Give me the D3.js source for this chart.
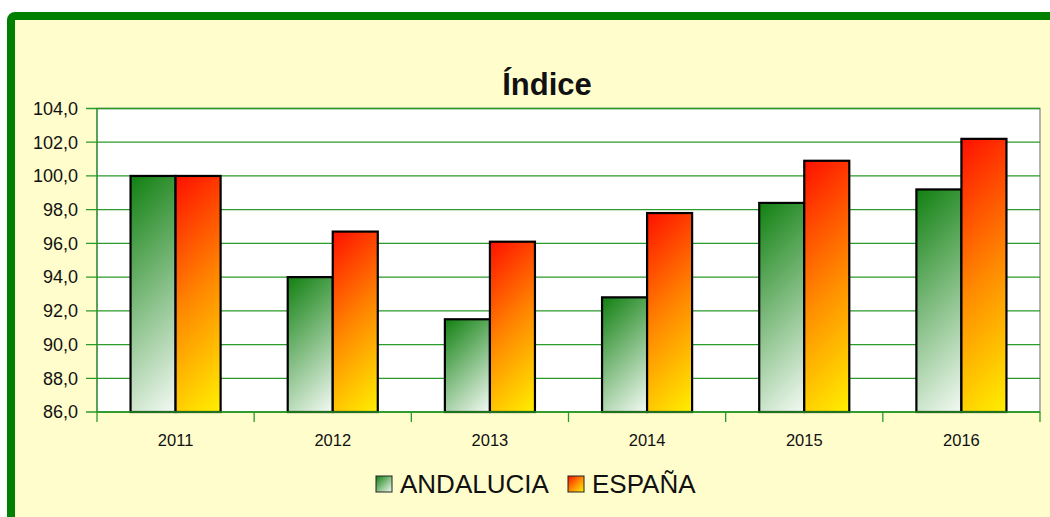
<!DOCTYPE html>
<html>
<head>
<meta charset="utf-8">
<script src="https://cdn.jsdelivr.net/npm/d3@7"></script>
<style>
  html, body { margin: 0; padding: 0; background: #fff; }
  svg { display: block; font-family: "Liberation Sans", Arial, sans-serif; }
</style>
</head>
<body>
<div id="chart"></div>
<script>
const years = ["2011", "2012", "2013", "2014", "2015", "2016"];
const andalucia = [100.0, 94.0, 91.5, 92.8, 98.4, 99.2];
const espana = [100.0, 96.7, 96.1, 97.8, 100.9, 102.2];
const seriesNames = ["ANDALUCIA", "ESPAÑA"];
const yTicks = [86, 88, 90, 92, 94, 96, 98, 100, 102, 104];

const greenStops = [["0%", "#118011"], ["100%", "#f4faf4"]];
const redStops = [["0%", "#ff1000"], ["50%", "#ff8800"], ["100%", "#fff000"]];

const W = 1050, H = 517;
const svg = d3.select("#chart").append("svg")
  .attr("width", W).attr("height", H);

const defs = svg.append("defs");
let gid = 0;
// 45 degree gradient in pixel space, covering the rect (like the office chart fill)
function grad(stops, x0, y0, w, h) {
  const id = "g" + gid++;
  const g = defs.append("linearGradient").attr("id", id);
  if (w === undefined) {
    g.attr("x1", "0%").attr("y1", "0%").attr("x2", "100%").attr("y2", "100%");
  } else {
    const s = (w + h) / 2;
    g.attr("gradientUnits", "userSpaceOnUse")
      .attr("x1", x0).attr("y1", y0).attr("x2", x0 + s).attr("y2", y0 + s);
  }
  stops.forEach(([o, c]) => g.append("stop").attr("offset", o).attr("stop-color", c));
  return `url(#${id})`;
}

// outer frame
svg.append("rect")
  .attr("x", 11).attr("y", 16).attr("width", W + 20).attr("height", H + 20)
  .attr("rx", 4)
  .attr("fill", "#fffdcc").attr("stroke", "#008000").attr("stroke-width", 8);

const m = { left: 97, right: 1040, top: 108.5, bottom: 412 };

const x = d3.scaleBand().domain(years).range([m.left, m.right]).paddingInner(0).paddingOuter(0);
const x1 = d3.scaleBand().domain(seriesNames).range([0, x.bandwidth()]).paddingInner(0).paddingOuter(0.745);
const y = d3.scaleLinear().domain([86, 104]).range([m.bottom, m.top]);

// plot area
svg.append("rect")
  .attr("x", m.left).attr("y", m.top)
  .attr("width", m.right - m.left).attr("height", m.bottom - m.top)
  .attr("fill", "#fff").attr("stroke", "#9a9a9a").attr("stroke-width", 1.5);

// gridlines
svg.append("g").selectAll("line").data(yTicks).join("line")
  .attr("x1", m.left - 11).attr("x2", m.right)
  .attr("y1", d => y(d)).attr("y2", d => y(d))
  .attr("stroke", "#2a9a2a").attr("stroke-width", 1.3);

// y axis line
svg.append("line")
  .attr("x1", m.left).attr("x2", m.left).attr("y1", m.top).attr("y2", m.bottom + 10)
  .attr("stroke", "#2a9a2a").attr("stroke-width", 1.3);

// y labels
svg.append("g").selectAll("text").data(yTicks).join("text")
  .attr("x", 78).attr("y", d => y(d)).attr("dy", "0.35em")
  .attr("text-anchor", "end").attr("font-size", 18).attr("fill", "#111")
  .text(d => d3.format(".1f")(d).replace(".", ","));

// x ticks
svg.append("g").selectAll("line").data(years).join("line")
  .attr("x1", (d, i) => m.left + x.bandwidth() * (i + 1))
  .attr("x2", (d, i) => m.left + x.bandwidth() * (i + 1))
  .attr("y1", m.bottom).attr("y2", m.bottom + 10)
  .attr("stroke", "#2a9a2a").attr("stroke-width", 1.3);

// bars
const groups = svg.append("g").selectAll("g").data(years).join("g")
  .attr("transform", d => `translate(${x(d)},0)`);

groups.selectAll("rect")
  .data((d, i) => [
    { s: seriesNames[0], v: andalucia[i], stops: greenStops },
    { s: seriesNames[1], v: espana[i], stops: redStops }
  ])
  .join("rect")
  .attr("x", d => x1(d.s))
  .attr("y", d => y(d.v))
  .attr("width", x1.bandwidth())
  .attr("height", d => y(86) - y(d.v))
  .attr("fill", d => grad(d.stops, x1(d.s), y(d.v), x1.bandwidth(), y(86) - y(d.v)))
  .attr("stroke", "#000").attr("stroke-width", 2.2);

// bottom axis line
svg.append("line")
  .attr("x1", m.left).attr("x2", m.right).attr("y1", m.bottom).attr("y2", m.bottom)
  .attr("stroke", "#2a9a2a").attr("stroke-width", 1.5);

// x labels
svg.append("g").selectAll("text").data(years).join("text")
  .attr("x", d => x(d) + x.bandwidth() / 2).attr("y", 446)
  .attr("text-anchor", "middle").attr("font-size", 16.5).attr("fill", "#111")
  .text(d => d);

// title
svg.append("text")
  .attr("x", 547).attr("y", 95).attr("text-anchor", "middle")
  .attr("font-size", 31).attr("font-weight", "bold").attr("fill", "#111")
  .text("Índice");

// legend
const legend = [
  { name: seriesNames[0], stops: greenStops, x: 376 },
  { name: seriesNames[1], stops: redStops, x: 568 }
];
const lg = svg.append("g").selectAll("g").data(legend).join("g")
  .attr("transform", d => `translate(${d.x},476)`);
lg.append("rect").attr("width", 16).attr("height", 16)
  .attr("fill", d => grad(d.stops)).attr("stroke", "#222").attr("stroke-width", 1);
lg.append("text").attr("x", 24).attr("y", 8).attr("dy", "0.36em")
  .attr("font-size", 26).attr("fill", "#111")
  .text(d => d.name);
</script>
</body>
</html>
